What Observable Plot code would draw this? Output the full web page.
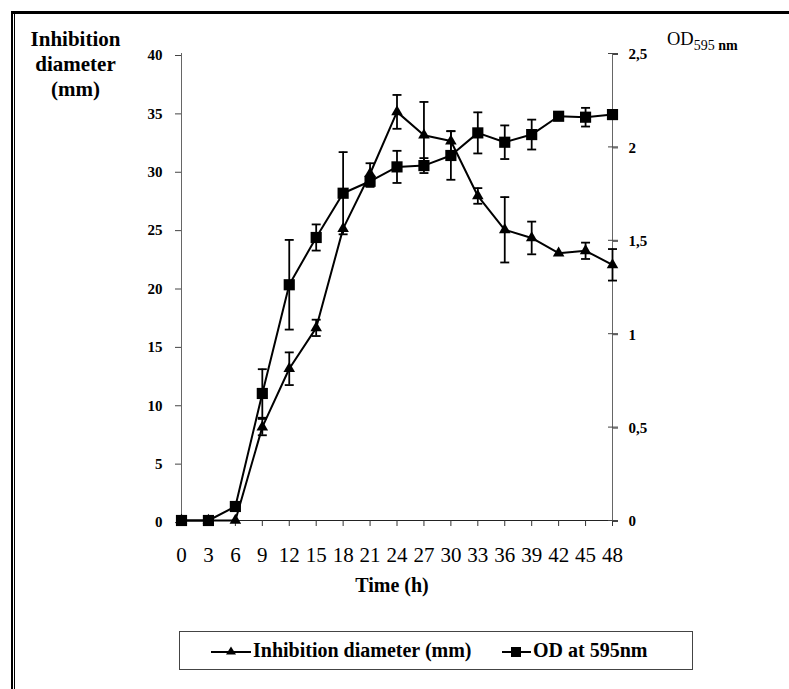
<!DOCTYPE html>
<html>
<head>
<meta charset="utf-8">
<script src="https://cdn.jsdelivr.net/npm/d3@7"></script>
<script src="https://cdn.jsdelivr.net/npm/@observablehq/plot@0.6"></script>
<style>
  html, body { margin: 0; padding: 0; background: #fff; }
  #root { position: relative; width: 789px; height: 689px; overflow: hidden; font-family: "Liberation Serif", "Times New Roman", serif; color: #000; }
  .abs { position: absolute; white-space: nowrap; }
</style>
</head>
<body>
<div id="root">
  <div class="abs" style="left:11px;top:11px;width:778px;height:3px;background:#000"></div>
  <div class="abs" style="left:11px;top:11px;width:2px;height:678px;background:#000"></div>
  <div class="abs" style="left:14px;top:11px;width:1px;height:678px;background:#000"></div>
  <div id="chart" class="abs" style="left:0;top:0"></div>
  <div class="abs" style="left:15px;top:27px;width:121px;text-align:center;font-weight:bold;font-size:21px;line-height:25px">Inhibition<br>diameter<br>(mm)</div>
  <div class="abs" style="left:667px;top:30px;font-size:18.5px;line-height:18.5px">OD<span style="font-size:14px;position:relative;top:5px">595 <b>nm</b></span></div>
  <div class="abs" style="left:292px;top:575px;width:200px;text-align:center;font-weight:bold;font-size:20px;line-height:20px">Time (h)</div>
  <div id="legend" class="abs" style="left:179px;top:631px;width:514px;height:39px;box-sizing:border-box;border:1px solid #444"></div>
</div>
<script>
// ---- data ----
const times = [0, 3, 6, 9, 12, 15, 18, 21, 24, 27, 30, 33, 36, 39, 42, 45, 48];
const inhibition    = [0, 0, 0, 8, 13, 16.5, 25, 29.7, 35, 33, 32.5, 27.8, 24.9, 24.2, 22.9, 23.1, 21.9];
const inhibitionErr = [0, 0, 0, 0.7, 1.4, 0.7, 0, 0.9, 1.45, 2.85, 0.85, 0.67, 2.8, 1.4, 0, 0.7, 1.35];
const od            = [0, 0, 0.075, 0.68, 1.262, 1.515, 1.752, 1.816, 1.893, 1.90, 1.954, 2.075, 2.025, 2.066, 2.164, 2.159, 2.173];
const odErr         = [0, 0, 0, 0.13, 0.24, 0.07, 0.22, 0.03, 0.086, 0.04, 0.13, 0.11, 0.09, 0.08, 0, 0.05, 0];
const leftTicks  = [0, 5, 10, 15, 20, 25, 30, 35, 40];
const rightTicks = [0, 0.5, 1, 1.5, 2, 2.5];
const legendLabels = ["Inhibition diameter (mm)", "OD at 595nm"];

// OD is mapped onto the left (inhibition) scale: 2.5 OD <-> 40 mm
const K = 40 / 2.5;
const rows = times.map((t, i) => ({
  t, inh: inhibition[i], inhE: inhibitionErr[i], od: od[i] * K, odE: odErr[i] * K
}));
const inhErrRows = rows.filter(d => d.inhE > 0);
const odErrRows = rows.filter(d => d.odE > 0);
const capW = 0.5;
const ebStyle = {stroke: "#000", strokeWidth: 1.8};

function errorMarks(data, y, e) {
  return [
    Plot.ruleX(data, {x: "t", y1: d => d[y] - d[e], y2: d => d[y] + d[e], ...ebStyle}),
    Plot.link(data, {x1: d => d.t - capW, x2: d => d.t + capW, y1: d => d[y] + d[e], y2: d => d[y] + d[e], ...ebStyle}),
    Plot.link(data, {x1: d => d.t - capW, x2: d => d.t + capW, y1: d => d[y] - d[e], y2: d => d[y] - d[e], ...ebStyle})
  ];
}

const chart = Plot.plot({
  width: 789,
  height: 615,
  marginLeft: 181,
  marginRight: 177,
  marginTop: 53,
  marginBottom: 95,
  style: {fontFamily: "'Liberation Serif', 'Times New Roman', serif", background: "transparent", color: "#000", overflow: "visible"},
  x: {type: "linear", domain: [0, 48]},
  y: {type: "linear", domain: [0, 40]},
  marks: [
    Plot.ruleX([0], {stroke: "#666", strokeWidth: 1}),
    Plot.ruleX([48], {stroke: "#666", strokeWidth: 1}),
    Plot.ruleY([0], {stroke: "#222", strokeWidth: 1.2}),
    Plot.axisX({ticks: times, tickSize: 6, tickPadding: 21, fontSize: 21, label: null, tickFormat: d => String(d), stroke: "#333"}),
    Plot.axisY({anchor: "left", ticks: leftTicks, tickSize: 6, tickPadding: 13, fontSize: 15, fontWeight: "bold", label: null, dy: 2, stroke: "#444"}),
    Plot.axisY({anchor: "right", ticks: rightTicks.map(v => v * K), tickSize: 5, tickPadding: 11, fontSize: 15, fontWeight: "bold", label: null, dy: 1,
      tickFormat: v => String(+(v / K).toFixed(2)).replace(".", ","), stroke: "#444"}),
    Plot.axisY({anchor: "right", ticks: rightTicks.map(v => v * K), tickSize: 10, dx: -5, label: null, tickFormat: () => "", stroke: "#444"}),
    ...errorMarks(inhErrRows, "inh", "inhE"),
    ...errorMarks(odErrRows, "od", "odE"),
    Plot.line(rows, {x: "t", y: "inh", stroke: "#000", strokeWidth: 2}),
    Plot.line(rows, {x: "t", y: "od", stroke: "#000", strokeWidth: 2}),
    Plot.dot(rows, {x: "t", y: "inh", symbol: "triangle", r: 4.3, fill: "#000", stroke: "none"}),
    Plot.dot(rows, {x: "t", y: "od", symbol: "square", r: 6.3, fill: "#000", stroke: "none"})
  ]
});
document.getElementById("chart").appendChild(chart);

// ---- legend ----
const legend = document.getElementById("legend");
legend.innerHTML = `
  <svg class="abs" style="left:31px;top:10px" width="42" height="20">
    <line x1="0" y1="10" x2="40" y2="10" stroke="#000" stroke-width="2"/>
    <path d="M20,4.5 L25,12.5 L15,12.5 Z" fill="#000"/>
  </svg>
  <div class="abs" style="left:73px;top:8px;font-size:20px;line-height:20px;font-weight:bold">${legendLabels[0]}</div>
  <svg class="abs" style="left:322px;top:10px" width="30" height="20">
    <line x1="0" y1="10" x2="29" y2="10" stroke="#000" stroke-width="2"/>
    <rect x="9" y="5" width="10" height="10" fill="#000"/>
  </svg>
  <div class="abs" style="left:353px;top:8px;font-size:20px;line-height:20px;font-weight:bold">${legendLabels[1]}</div>
`;
</script>
</body>
</html>
